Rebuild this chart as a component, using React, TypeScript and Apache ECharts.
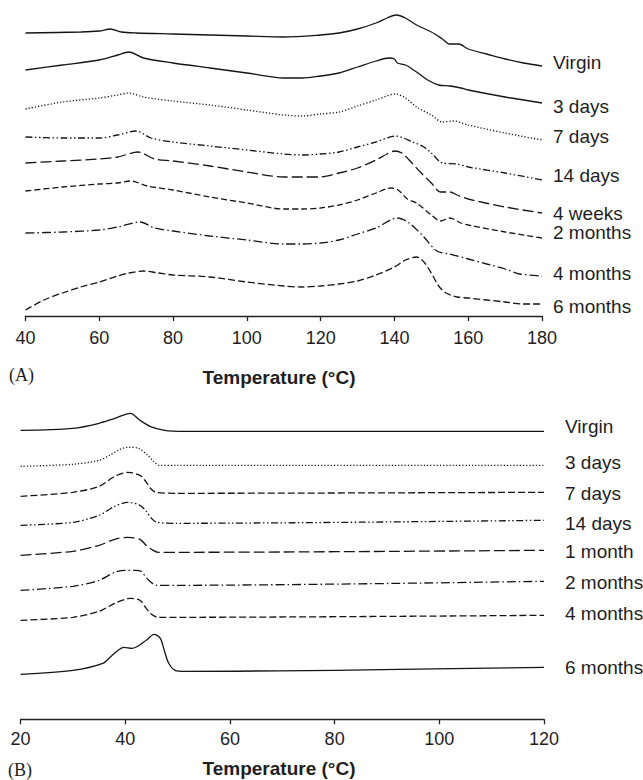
import React, { useEffect, useRef } from "react";
import * as echarts from "echarts";

// ---------- Panel A data: [temperature °C, heat flow (a.u., stacked offset)] ----------
const virginA: [number, number][] = [
  [40, 28.3], [55, 28.4], [60, 28.5], [63, 28.7], [66, 28.4], [70, 28.3], [80, 28.2], [100, 28.0],
  [110, 27.9], [120, 28.1], [125, 28.3], [130, 28.7], [135, 29.3], [138, 29.8], [140.5, 30.1],
  [143, 29.8], [146, 29.1], [150, 28.4], [153, 27.7], [155, 27.2], [157.5, 27.2], [160, 26.7],
  [165, 26.2], [170, 25.7], [175, 25.3], [180, 25.0],
];
const days3A: [number, number][] = [
  [40, 24.6], [50, 25.1], [60, 25.6], [65, 26.1], [68, 26.4], [72, 25.8], [80, 25.3], [90, 24.8],
  [100, 24.3], [110, 23.8], [115, 23.8], [120, 24.0], [125, 24.3], [130, 24.9], [135, 25.5],
  [138.5, 25.8], [140, 25.7], [140.8, 25.3], [143, 25.1], [146, 24.4], [149, 23.6], [152, 23.1],
  [155, 23.0], [158, 22.8], [160, 22.6], [170, 21.9], [180, 21.3],
];
const days7A: [number, number][] = [
  [40, 20.7], [50, 21.4], [60, 21.8], [65, 22.1], [68, 22.3], [72, 21.9], [80, 21.5], [90, 21.1],
  [100, 20.6], [110, 20.1], [115, 20.0], [120, 20.2], [125, 20.4], [130, 21.0], [135, 21.6],
  [140.3, 22.2], [143, 21.8], [146, 20.9], [150, 20.1], [153, 19.4], [156, 19.5], [160, 19.1],
  [170, 18.3], [180, 17.6],
];
const days14A: [number, number][] = [
  [40, 17.9], [50, 17.8], [60, 17.8], [65, 18.1], [70, 18.5], [74, 17.8], [80, 17.4], [90, 17.0],
  [100, 16.6], [110, 16.2], [115, 16.1], [120, 16.2], [125, 16.4], [130, 16.9], [135, 17.4],
  [140.3, 18.0], [145, 17.4], [148, 16.9], [150, 16.3], [153, 15.3], [157, 15.2], [160, 14.9],
  [170, 14.3], [180, 13.6],
];
const weeks4A: [number, number][] = [
  [40, 15.3], [50, 15.5], [60, 15.7], [65, 15.9], [70.5, 16.4], [75, 15.7], [80, 15.5], [90, 15.0],
  [100, 14.4], [110, 13.9], [115, 13.9], [120, 13.9], [125, 14.3], [130, 14.8], [135, 15.6],
  [138, 16.2], [140, 16.5], [142, 16.3], [144, 15.6], [147, 14.4], [150, 13.3], [152.5, 12.4],
  [155, 12.4], [157, 12.1], [160, 11.7], [170, 10.9], [180, 10.3],
];
const months2A: [number, number][] = [
  [40, 12.5], [50, 12.9], [60, 13.2], [65, 13.3], [68.5, 13.5], [73, 13.0], [80, 12.6], [90, 11.9],
  [100, 11.3], [110, 10.7], [115, 10.7], [120, 10.8], [125, 11.1], [130, 11.6], [135, 12.3],
  [139, 12.8], [141, 12.6], [143.5, 11.7], [146, 11.3], [150, 10.1], [152.5, 9.5], [155, 9.8],
  [158, 9.3], [160, 9.1], [170, 8.4], [180, 7.8],
];
const months4A: [number, number][] = [
  [40, 8.3], [50, 8.4], [60, 8.6], [65, 8.9], [71, 9.4], [75, 8.8], [80, 8.5], [90, 8.0],
  [100, 7.6], [110, 7.2], [115, 7.2], [120, 7.3], [125, 7.6], [130, 8.2], [135, 8.8],
  [140.8, 9.8], [144, 9.3], [148, 7.9], [151.5, 6.5], [155, 6.2], [160, 5.7], [165, 5.2],
  [170, 4.7], [174, 4.2], [180, 4.0],
];
const months6A: [number, number][] = [
  [40, 0.6], [45, 1.6], [50, 2.3], [55, 2.9], [60, 3.4], [65, 4.0], [68, 4.3], [72, 4.5],
  [76, 4.3], [80, 4.1], [90, 3.9], [100, 3.4], [110, 3.0], [115, 2.9], [120, 3.0], [125, 3.2],
  [130, 3.5], [135, 4.1], [140, 4.9], [143, 5.6], [146, 5.9], [148, 5.4], [150, 4.3], [152, 3.0],
  [154, 2.3], [157, 1.9], [160, 1.8], [170, 1.4], [175, 1.2], [180, 1.2],
];

// ---------- Panel B data ----------
const virginB: [number, number][] = [
  [20, 28.9], [30, 29.1], [35, 29.6], [38, 30.1], [41, 30.6], [42.8, 29.9], [44.7, 29.3],
  [47.5, 28.9], [51.4, 28.8], [120, 28.8],
];
const days3B: [number, number][] = [
  [20, 25.3], [30, 25.5], [35, 25.9], [37, 26.4], [39, 27.0], [40.5, 27.2], [42.5, 27.1],
  [44.3, 26.4], [45.4, 25.8], [46.5, 25.4], [50, 25.4], [120, 25.4],
];
const days7B: [number, number][] = [
  [20, 22.3], [30, 22.7], [35, 23.3], [38, 24.3], [40.5, 24.7], [42.8, 24.4], [43.9, 23.8],
  [44.8, 23.1], [45.8, 22.7], [50, 22.6], [120, 22.7],
];
const days14B: [number, number][] = [
  [20, 19.4], [30, 19.7], [35, 20.4], [38, 21.3], [40.5, 21.7], [42.8, 21.4], [44, 20.8],
  [45, 20.1], [46, 19.7], [50, 19.6], [120, 19.9],
];
const month1B: [number, number][] = [
  [20, 16.4], [30, 16.8], [35, 17.4], [38, 18.0], [40.5, 18.2], [42.8, 18.0], [44, 17.4],
  [45, 17.0], [46.3, 16.7], [50, 16.7], [120, 16.9],
];
const months2B: [number, number][] = [
  [20, 12.9], [30, 13.3], [35, 13.9], [38, 14.7], [40, 14.9], [42, 14.9], [43, 14.8],
  [44.5, 13.9], [46, 13.4], [50, 13.4], [120, 13.8],
];
const months4B: [number, number][] = [
  [20, 9.9], [30, 10.2], [35, 10.8], [38, 11.6], [41, 12.1], [42.8, 11.9], [44, 11.1],
  [45, 10.5], [46.3, 10.2], [50, 10.2], [120, 10.4],
];
const months6B: [number, number][] = [
  [20, 4.5], [30, 4.9], [35.7, 5.6], [37.3, 6.3], [38.9, 7.0], [39.7, 7.2], [41.3, 7.1],
  [42.4, 7.3], [44, 7.9], [45.5, 8.5], [46.7, 8.1], [47.5, 6.8], [48.3, 5.6], [49.5, 4.9],
  [51.4, 4.8], [120, 5.2],
];

const namesA = ["Virgin", "3 days", "7 days", "14 days", "4 weeks", "2 months", "4 months", "6 months"];
const namesB = ["Virgin", "3 days", "7 days", "14 days", "1 month", "2 months", "4 months", "6 months"];
const ticksA = [40, 60, 80, 100, 120, 140, 160, 180];
const ticksB = [20, 40, 60, 80, 100, 120];
const axisTitle = "Temperature (°C)";

const dataA = [virginA, days3A, days7A, days14A, weeks4A, months2A, months4A, months6A];
const dataB = [virginB, days3B, days7B, days14B, month1B, months2B, months4B, months6B];

// styles
const SOLID = "solid";
const DOT = [1.2, 2];
const DASH_DOT_DOT = [7, 2.5, 1.5, 2.5, 1.5, 2.5];
const LONG_DASH = [11, 4];
const SHORT_DASH = [6, 3];
const DASH_DOT = [9, 3, 1.5, 3];
const MED_DASH = [7, 3];
const stylesA: any[] = [SOLID, SOLID, DOT, DASH_DOT_DOT, LONG_DASH, SHORT_DASH, DASH_DOT, MED_DASH];
const stylesB: any[] = [SOLID, DOT, MED_DASH, DASH_DOT_DOT, LONG_DASH, DASH_DOT, MED_DASH, SOLID];
const labelDyA = [-3.5, 3.5, -3.5, -5, 0, -5.5, -2.5, 2];
const labelDyB = [-5, -2.5, 1, 3.5, 1.5, 1, -1.5, 0.5];

const FONT = "'Liberation Sans', Arial, Helvetica, sans-serif";
const INK = "#1e1e1e";

export default function App() {
  const ref = useRef<HTMLDivElement>(null);
  useEffect(() => {
    if (!ref.current) return;
    const chart = echarts.init(ref.current, undefined, { renderer: "svg" });

    const mkSeries = (data: [number, number][], name: string, type: any, idx: number, dy: number, dx: number) => ({
      type: "line",
      name,
      xAxisIndex: idx,
      yAxisIndex: idx,
      data,
      showSymbol: false,
      smooth: 0.3,
      clip: false,
      lineStyle: { color: "#151515", width: 1.3, type },
      endLabel: {
        show: true,
        formatter: name,
        offset: [dx, dy],
        fontSize: 19,
        fontFamily: FONT,
        color: INK,
      },
      emphasis: { disabled: true },
    });

    const xAxisBase = (min: number, max: number, idx: number, ticks: number[], margin: number) => ({
      type: "value",
      gridIndex: idx,
      min,
      max,
      interval: 20,
      axisLine: { show: true, onZero: false, lineStyle: { color: "#222", width: 1.3 } },
      axisTick: { show: true, inside: false, length: 5, lineStyle: { color: "#222", width: 1.3 } },
      splitLine: { show: false },
      axisLabel: {
        margin,
        fontSize: 18,
        fontFamily: FONT,
        color: INK,
        formatter: (v: number) => (ticks.includes(v) ? String(v) : ""),
      },
    });
    const yAxisBase = (idx: number) => ({
      type: "value",
      gridIndex: idx,
      min: 0,
      max: 31,
      show: false,
    });

    chart.setOption({
      animation: false,
      backgroundColor: "#fff",
      grid: [
        { left: 25.5, right: 101, top: 6, height: 310 },
        { left: 20.6, right: 99, top: 409.3, height: 310 },
      ],
      xAxis: [xAxisBase(40, 180, 0, ticksA, 13), xAxisBase(20, 120, 1, ticksB, 11)],
      yAxis: [yAxisBase(0), yAxisBase(1)],
      series: [
        ...dataA.map((d, i) => mkSeries(d, namesA[i], stylesA[i], 0, labelDyA[i], 3)),
        ...dataB.map((d, i) => mkSeries(d, namesB[i], stylesB[i], 1, labelDyB[i], 13)),
      ],
      graphic: [
        {
          type: "text", left: 9, top: 366,
          style: { text: "(A)", fontSize: 18, fontFamily: "'Liberation Serif', 'Times New Roman', serif", fill: INK },
        },
        {
          type: "text", x: 279, y: 377,
          style: { text: axisTitle, fontSize: 19, fontWeight: "bold", fontFamily: FONT, fill: INK, align: "center", verticalAlign: "middle" },
        },
        {
          type: "text", left: 8, top: 761,
          style: { text: "(B)", fontSize: 18, fontFamily: "'Liberation Serif', 'Times New Roman', serif", fill: INK },
        },
        {
          type: "text", x: 279, y: 768,
          style: { text: axisTitle, fontSize: 19, fontWeight: "bold", fontFamily: FONT, fill: INK, align: "center", verticalAlign: "middle" },
        },
      ],
    });
    return () => chart.dispose();
  }, []);
  return (
    <div
      ref={ref}
      style={{ position: "absolute", left: 0, top: 0, width: 643, height: 780, background: "#fff" }}
    />
  );
}
